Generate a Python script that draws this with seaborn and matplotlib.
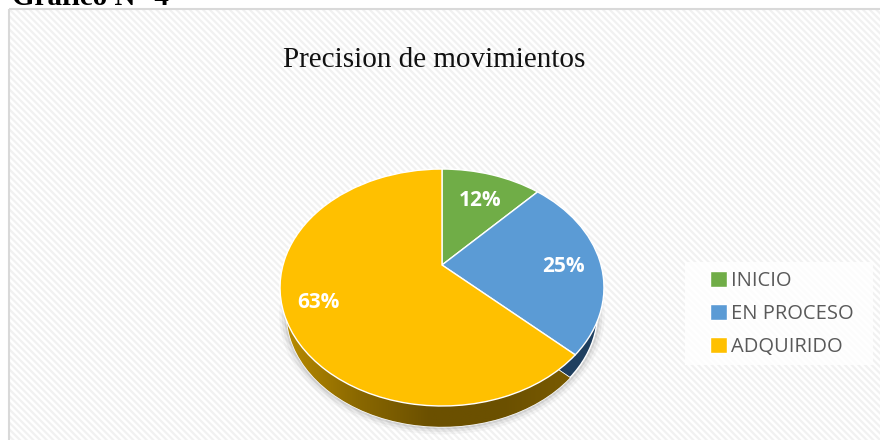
import numpy as np
import seaborn as sns
import matplotlib
matplotlib.use('Agg')
import matplotlib.pyplot as plt
from matplotlib.patches import Rectangle, Circle
from matplotlib.transforms import Transform
from matplotlib.colors import LinearSegmentedColormap

categories = ['INICIO', 'EN PROCESO', 'ADQUIRIDO']
values = [12, 25, 63]
colors = ['#70AD47', '#5B9BD5', '#FFC000']
side_colors = ['#3F6128', '#1F3F5F', '#6B5000']
title = 'Precision de movimientos'
heading = 'Gráfico N° 4'


# tilted disc, the near side comes out bigger than the far side
class Tilt(Transform):
    input_dims = 2
    output_dims = 2
    is_affine = False

    def __init__(self, cx, cy, a, b, k):
        super().__init__()
        self.cx, self.cy, self.a, self.b, self.k = cx, cy, a, b, k

    def transform_non_affine(self, xy):
        xy = np.asarray(xy, dtype=float)
        w = 1 + self.k * xy[:, 1]
        return np.column_stack([self.cx + self.a * xy[:, 0] / w,
                                self.cy - self.b * xy[:, 1] / w])


sns.set_theme(style='white')
plt.rcParams['font.family'] = ['Liberation Serif', 'DejaVu Serif']
plt.rcParams['hatch.linewidth'] = 1.6

fig = plt.figure(figsize=(8.8, 4.4), dpi=100)
ax = fig.add_axes([0, 0, 1, 1])

top = Tilt(442, 265, 159, 114.2, 0.19)
side = Tilt(442, 291.5, 152.6, 109.6, 0.19)

# side of the disc first, the top face goes over it
side_wedges, _ = ax.pie(values, colors=side_colors, startangle=90, counterclock=False)
for w in side_wedges:
    w.set_transform(side + ax.transData)
    w.set_zorder(3)

top_wedges, _, pct = ax.pie(values, colors=colors, startangle=90, counterclock=False,
                            autopct='%d%%', textprops={'color': 'white'})
for w in top_wedges:
    w.set_transform(top + ax.transData)
    w.set_zorder(5)

ax.set_aspect('auto')
ax.set_xlim(0, 880)
ax.set_ylim(440, 0)
ax.axis('off')

# background with the thin diagonal stripes
ax.add_patch(Rectangle((9, 9), 871, 431, facecolor='white', edgecolor='#F1F1F1',
                       hatch='\\\\\\\\\\', linewidth=0, zorder=0))
ax.add_patch(Rectangle((9, 9), 880, 440, facecolor='none', edgecolor='#D9D9D9',
                       linewidth=1.5, zorder=1))

# soft shadow under the disc
for r, alpha in [(1.045, 0.05), (1.03, 0.08), (1.015, 0.12), (1.0, 0.15)]:
    ax.add_patch(Circle((0, 0), r, facecolor='#555555', edgecolor='none', alpha=alpha,
                        transform=side + ax.transData, zorder=2))

# gradient on the yellow part of the side
cmap = LinearSegmentedColormap.from_list('side', ['#B88B00', '#8A6800', '#6B5000', '#6B5000', '#7A5B00'])
img = ax.imshow(np.linspace(0, 1, 256).reshape(1, -1), cmap=cmap, extent=(285, 575, 440, 300),
                aspect='auto', zorder=4)
img.set_clip_path(side_wedges[2].get_path(), side_wedges[2].get_transform())
ax.set_xlim(0, 880)
ax.set_ylim(440, 0)

for t, (px, py) in zip(pct, [(480, 200), (563, 266), (318, 303)]):
    t.set_position((px, py))
    t.set_transform(ax.transData)
    t.set_fontfamily(['Open Sans', 'DejaVu Sans'])
    t.set_fontweight('bold')
    t.set_fontsize(15)
    t.set_zorder(6)

ax.text(434, 60, title, ha='center', va='center', fontsize=21, color='#111111', zorder=6)
ax.text(12, 5, heading, ha='left', va='baseline', fontsize=21, fontweight='bold',
        color='black', zorder=6)

# legend backing is a bit wider than the entries
ax.add_patch(Rectangle((685, 262), 188, 103, facecolor='white', edgecolor='none', alpha=0.8, zorder=5))
leg = ax.legend(top_wedges, categories, loc='center left', bbox_to_anchor=(710, 314),
                bbox_transform=ax.transData, frameon=False, handlelength=0.85, handleheight=0.85,
                handletextpad=0.2, labelspacing=0.64, borderpad=0, borderaxespad=0,
                prop={'family': 'Open Sans', 'size': 14.5}, labelcolor='#595959')
leg.set_zorder(6)

plt.savefig('out.png', dpi=100)
plt.close()
